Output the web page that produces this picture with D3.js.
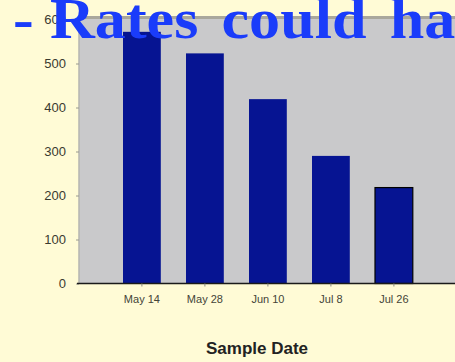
<!DOCTYPE html>
<html>
<head>
<meta charset="utf-8">
<script src="https://cdn.jsdelivr.net/npm/d3@7"></script>
<style>
  html, body { margin: 0; padding: 0; background: #fffbd6; }
  svg { display: block; }
</style>
</head>
<body>
<svg id="chart" width="455" height="362"></svg>
<script>
// Sample dates and measured values
const categories = ["May 14", "May 28", "Jun 10", "Jul 8", "Jul 26"];
const values = [572, 523, 419, 290, 218];
const yTicks = [0, 100, 200, 300, 400, 500, 600];
const titleDash = "-";
const titleText = "Rates could have";
const xTitle = "Sample Date";

const svg = d3.select("#chart");
const W = 455, H = 362;

const plot = { left: 79, right: 470, top: 19.5, bottom: 283.5 };

const x = d3.scaleBand()
  .domain(categories)
  .range([110.4, 425.4])
  .paddingInner(0.4)
  .paddingOuter(0.2);

const y = d3.scaleLinear()
  .domain([0, 600])
  .range([plot.bottom, plot.top]);

svg.append("rect").attr("width", W).attr("height", H).attr("fill", "#fffbd6");

// plot background
svg.append("rect")
  .attr("x", plot.left).attr("y", plot.top - 2)
  .attr("width", plot.right - plot.left).attr("height", plot.bottom - plot.top + 2)
  .attr("fill", "#c9c9cb");
svg.append("line")
  .attr("x1", plot.left).attr("x2", plot.right)
  .attr("y1", plot.top - 2).attr("y2", plot.top - 2)
  .attr("stroke", "#a9a79c").attr("stroke-width", 3);
svg.append("line")
  .attr("x1", plot.left).attr("x2", plot.left)
  .attr("y1", plot.top - 2).attr("y2", plot.bottom)
  .attr("stroke", "#b5b5b0").attr("stroke-width", 1.5);

// bars
svg.append("g").selectAll("rect")
  .data(values)
  .join("rect")
  .attr("x", (d, i) => x(categories[i]))
  .attr("y", d => y(d))
  .attr("width", x.bandwidth())
  .attr("height", d => y(0) - y(d))
  .attr("fill", "#061492")
  .attr("stroke", (d, i) => i === values.length - 1 ? "#000" : "none")
  .attr("stroke-width", 1.2);

// y axis
const yAxis = svg.append("g")
  .attr("transform", `translate(${plot.left},0)`)
  .call(d3.axisLeft(y).tickValues(yTicks).tickSize(3).tickPadding(10).tickFormat(d3.format("d")));
yAxis.select(".domain").remove();
yAxis.selectAll(".tick line").attr("stroke", "#9a9a90");
yAxis.selectAll(".tick text")
  .attr("fill", "#3a3a30")
  .style("font-family", "Arial, 'Liberation Sans', sans-serif")
  .style("font-size", "13px");

// x axis
const xAxis = svg.append("g")
  .attr("transform", `translate(0,${plot.bottom})`)
  .call(d3.axisBottom(x).tickSize(3).tickPadding(9));
xAxis.select(".domain")
  .attr("d", `M${plot.left - 2},0H${W + 5}`)
  .attr("stroke", "#1a1a1a").attr("stroke-width", 1.6);
xAxis.selectAll(".tick line").attr("stroke", "#8a8a80");
xAxis.selectAll(".tick text")
  .attr("fill", "#444438")
  .style("font-family", "Arial, 'Liberation Sans', sans-serif")
  .style("font-size", "11px");

// axis title
svg.append("text")
  .attr("x", 257).attr("y", 354)
  .attr("text-anchor", "middle")
  .attr("fill", "#222")
  .style("font-family", "Arial, 'Liberation Sans', sans-serif")
  .style("font-size", "17px")
  .style("font-weight", "bold")
  .text(xTitle);

// heading, set slightly wide
const sx = 1.09;
const head = svg.append("g").attr("transform", `translate(0,38) scale(${sx},1)`);
const headStyle = t => t
  .attr("fill", "#1a3cfa")
  .style("font-family", "'Times New Roman', 'Liberation Serif', serif")
  .style("font-size", "57px")
  .style("font-weight", "bold")
  .style("word-spacing", "7px");
headStyle(head.append("text").attr("x", 13 / sx).attr("y", 0).text(titleDash));
headStyle(head.append("text").attr("x", 50 / sx).attr("y", 0).text(titleText));
</script>
</body>
</html>
